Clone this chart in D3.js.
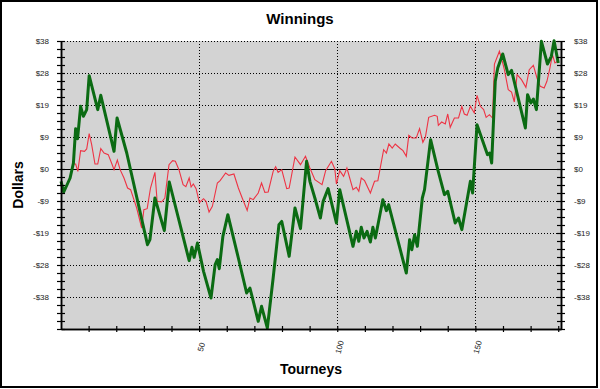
<!DOCTYPE html>
<html>
<head>
<meta charset="utf-8">
<script src="https://cdn.jsdelivr.net/npm/d3@7"></script>
<style>
  body { margin: 0; background: #fff; }
  svg { display: block; }
  text { font-family: Arial, "Liberation Sans", sans-serif; }
</style>
</head>
<body>
<svg width="600" height="389"></svg>
<script>
// green (thick) series: tourney number and running winnings
const greenT = [0, 1, 3.3, 4.5, 5.3, 6.0, 7.1, 8.1, 9.3, 10.2, 13.3, 14.4, 19.2, 20.3, 23.8, 31.3, 32.2, 34.0, 37.4, 39.2,
  46.0, 46.4, 47.4, 48.2, 49.4, 51.6, 54.3, 55.8, 56.6, 57.3, 58.6, 60.4, 64.2, 67.2, 68.4, 71.4, 72.6, 74.7, 76.8, 78.9,
  79.9, 82.6, 84.7, 86.7, 88.9, 90.1, 91.9, 93.9, 94.9, 96.7, 99.7, 100.9, 105.7, 106.9, 107.8, 108.7, 109.7, 110.8, 112.0, 112.9,
  113.8, 116.5, 117.8, 118.6, 125.0, 126.2, 127.0, 128.0, 129.0, 130.8, 131.6, 133.8, 136.4, 138.8, 140.0, 142.7, 143.9, 145.1, 148.2, 149.0,
  150.6, 154.4, 155.2, 155.9, 157.2, 158.1, 159.9, 161.9, 163.1, 168.1, 168.9, 170.1, 171.0, 172.1, 173.9, 176.1, 177.5, 178.5, 180.0];
const greenV = [-3.7, -6.9, -2.7, 1.8, 12.1, 9.1, 18.8, 15.8, 17.8, 28.0, 17.8, 22.1, 5.3, 15.3, 4.8, -22.7, -21.2, -8.7, -18.5, -3.9,
  -26.2, -27.5, -23.5, -26.5, -22.2, -30.7, -38.7, -28.7, -27.2, -29.9, -20.2, -13.7, -26.7, -37.2, -35.7, -45.7, -41.2, -47.7, -32.7, -16.7,
  -15.7, -26.2, -11.7, -17.9, 2.3, -3.7, -8.7, -14.7, -9.7, -5.9, -16.2, -6.2, -23.2, -18.7, -21.7, -17.5, -20.7, -18.7, -21.9, -17.5,
  -20.7, -9.2, -12.5, -10.7, -31.2, -21.2, -24.2, -19.7, -23.2, -8.7, -6.2, 8.8, -0.2, -7.7, -6.7, -16.2, -14.7, -18.2, -3.7, -7.2,
  13.3, 4.3, 4.8, 1.8, 26.3, 30.3, 34.5, 28.3, 29.6, 12.3, 22.3, 19.8, 21.0, 17.8, 38.3, 31.5, 33.8, 38.5, 31.8];

// red (thin) series
const redT = [4.5, 5.3, 6.1, 7.1, 8.5, 9.3, 10.2, 11.1, 12.3, 13.3, 14.4, 15.6, 17.1, 18.3, 19.2, 20.4, 21.4, 22.8, 24.1, 25.2,
  27.4, 29.2, 30.0, 31.2, 32.4, 34.0, 34.8, 36.4, 37.6, 39.1, 40.4, 41.4, 42.7, 44.2, 45.2, 46.4, 47.1, 47.9, 48.9, 50.1,
  51.6, 52.5, 53.6, 54.8, 56.6, 57.6, 59.6, 60.8, 62.6, 64.2, 65.6, 67.4, 68.4, 69.6, 71.4, 72.6, 73.8, 75.0, 76.8, 77.7,
  78.6, 79.9, 81.7, 82.6, 84.7, 86.7, 88.5, 90.1, 91.9, 94.5, 95.8, 97.9, 99.1, 99.7, 100.9, 102.3, 103.5, 105.7, 106.9, 107.8,
  108.7, 109.9, 112.0, 113.5, 114.7, 116.8, 117.8, 118.7, 119.9, 121.0, 122.6, 123.8, 125.0, 125.9, 127.1, 128.6, 129.8, 131.0, 131.9, 133.1,
  135.2, 136.2, 136.6, 137.8, 139.1, 140.0, 140.9, 142.4, 143.9, 145.1, 146.0, 147.0, 148.2, 149.6, 150.6, 151.8, 153.0, 153.9, 155.1, 156.2,
  156.9, 158.7, 159.9, 160.5, 161.9, 163.1, 164.1, 165.1, 166.7, 168.3, 169.5, 171.0, 172.3, 173.5, 174.9, 175.9, 177.0, 177.9, 178.8, 179.7];
const redV = [1.5, 1.5, -0.7, 5.5, 5.3, 6.0, 10.6, 7.3, 1.5, 1.5, 6.1, 4.8, 4.3, 1.8, -0.2, 2.7, -0.2, -2.7, -5.7, -6.2,
  -11.7, -17.7, -12.2, -11.9, -5.7, -1.0, -9.7, -9.9, -8.7, 1.3, 2.5, 2.3, -0.2, -4.7, -5.3, -2.7, -5.4, -4.5, -5.9, -10.1,
  -8.9, -9.7, -12.9, -11.2, -4.2, -3.5, -1.2, -1.9, -1.5, -5.7, -8.7, -12.4, -8.7, -9.2, -7.2, -4.2, -7.0, -6.9, -0.7, 0.7,
  -1.0, -0.2, -5.9, -5.7, 3.6, 1.3, 3.8, 0.3, -3.2, -4.7, -0.5, 2.3, 0.1, -4.5, -0.5, -2.2, 0.3, -6.2, -5.5, -6.7,
  -2.7, -3.5, -7.2, -3.7, -3.5, 5.8, 4.8, 7.5, 6.3, 7.5, 6.3, 5.5, 3.8, 10.1, 9.3, 9.3, 12.1, 8.0, 9.5, 15.5,
  16.1, 15.8, 13.1, 14.1, 13.5, 16.5, 12.5, 15.3, 15.3, 18.8, 16.5, 16.1, 18.8, 16.8, 22.1, 18.8, 17.8, 15.5, 16.3, 15.3,
  31.5, 35.3, 31.8, 29.8, 23.8, 23.1, 20.1, 28.3, 26.8, 24.5, 29.8, 31.1, 27.3, 24.8, 24.3, 26.3, 30.3, 34.3, 31.8, 32.3];

const yTickValues = [38.4, 28.8, 19.2, 9.6, 0, -9.6, -19.2, -28.8, -38.4];
const yTickLabels = ['$38', '$28', '$19', '$9', '$0', '-$9', '-$19', '-$28', '-$38'];
const xTickValues = [50, 100, 150];
const xTickLabels = ['50', '100', '150'];

const svg = d3.select('svg');
const width = +svg.attr('width');
const height = +svg.attr('height');
const margin = { top: 41, right: 39, bottom: 60, left: 61 };
const innerWidth = width - margin.left - margin.right;
const innerHeight = height - margin.top - margin.bottom;

const xScale = d3.scaleLinear().domain([0, 181]).range([0, innerWidth]);
const yScale = d3.scaleLinear().domain([-48, 38.4]).range([innerHeight, 0]);
const px = v => Math.round(v) + 0.5;

// outer frame
svg.append('rect')
  .attr('x', 1).attr('y', 1)
  .attr('width', 596).attr('height', 386)
  .attr('fill', '#fff')
  .attr('stroke', '#000')
  .attr('stroke-width', 2);

const g = svg.append('g').attr('transform', `translate(${margin.left},${margin.top})`);

g.append('rect')
  .attr('width', innerWidth).attr('height', innerHeight)
  .attr('fill', '#d3d3d3');

// dotted grid
g.selectAll('.hgrid').data(yTickValues.filter(d => d !== 0))
  .enter().append('line')
    .attr('x1', 0).attr('x2', innerWidth)
    .attr('y1', d => px(yScale(d))).attr('y2', d => px(yScale(d)))
    .attr('stroke', '#000')
    .attr('stroke-dasharray', '1,2');

g.selectAll('.vgrid').data(xTickValues)
  .enter().append('line')
    .attr('y1', 0).attr('y2', innerHeight)
    .attr('x1', d => px(xScale(d))).attr('x2', d => px(xScale(d)))
    .attr('stroke', '#000')
    .attr('stroke-dasharray', '1,2');

// zero line
g.append('line')
  .attr('x1', 0).attr('x2', innerWidth)
  .attr('y1', px(yScale(0))).attr('y2', px(yScale(0)))
  .attr('stroke', '#000');

// series
const line = d3.line().x(d => xScale(d[0])).y(d => yScale(d[1]));

g.append('path')
  .datum(redT.map((t, i) => [t, redV[i]]))
  .attr('d', line)
  .attr('fill', 'none')
  .attr('stroke', '#ee3344')
  .attr('stroke-width', 1.1);

g.append('path')
  .datum(greenT.map((t, i) => [t, greenV[i]]))
  .attr('d', line)
  .attr('fill', 'none')
  .attr('stroke', '#0b6b13')
  .attr('stroke-width', 3)
  .attr('stroke-linejoin', 'round');

// axes: ticks crossing the axis line
const minorY = d3.range(-48, 38.5, 2.4);
const minorX = d3.range(10, 181, 10);

const styleAxis = sel => {
  sel.selectAll('.domain').attr('stroke', '#000').attr('stroke-width', 1.5);
  sel.selectAll('.tick line').attr('stroke', '#000').attr('stroke-width', 1.2);
};

[[d3.axisLeft, 0], [d3.axisRight, 0], [d3.axisLeft, innerWidth], [d3.axisRight, innerWidth]].forEach(([ax, x]) => {
  g.append('g')
    .attr('transform', `translate(${x},0)`)
    .call(ax(yScale).tickValues(minorY).tickSize(4).tickSizeOuter(0).tickFormat(''))
    .call(styleAxis);
});

[d3.axisBottom, d3.axisTop].forEach(ax => {
  g.append('g')
    .attr('transform', `translate(0,${innerHeight})`)
    .call(ax(xScale).tickValues(minorX).tickSize(3).tickSizeOuter(0).tickFormat(''))
    .call(styleAxis);
});

// y tick labels both sides
yTickValues.forEach((v, i) => {
  g.append('text')
    .attr('x', -12).attr('y', yScale(v) + 3)
    .attr('text-anchor', 'end')
    .attr('font-size', 8).attr('fill', '#222')
    .text(yTickLabels[i]);
  g.append('text')
    .attr('x', innerWidth + 13).attr('y', yScale(v) + 3)
    .attr('text-anchor', 'start')
    .attr('font-size', 8).attr('fill', '#222')
    .text(yTickLabels[i]);
});

// x tick labels (rotated)
xTickValues.forEach((v, i) => {
  g.append('text')
    .attr('transform', `translate(${xScale(v) + 2},${innerHeight + 18}) rotate(-75)`)
    .attr('text-anchor', 'middle').attr('dy', 3)
    .attr('font-size', 8).attr('fill', '#222')
    .text(xTickLabels[i]);
});

// titles
svg.append('text')
  .attr('x', 300).attr('y', 24)
  .attr('text-anchor', 'middle')
  .attr('font-size', 15).attr('font-weight', 'bold')
  .text('Winnings');

svg.append('text')
  .attr('x', margin.left + innerWidth / 2).attr('y', 374)
  .attr('text-anchor', 'middle')
  .attr('font-size', 14).attr('font-weight', 'bold')
  .text('Tourneys');

svg.append('text')
  .attr('transform', `translate(23,${margin.top + innerHeight / 2}) rotate(-90)`)
  .attr('text-anchor', 'middle')
  .attr('font-size', 14).attr('font-weight', 'bold')
  .text('Dollars');
</script>
</body>
</html>
